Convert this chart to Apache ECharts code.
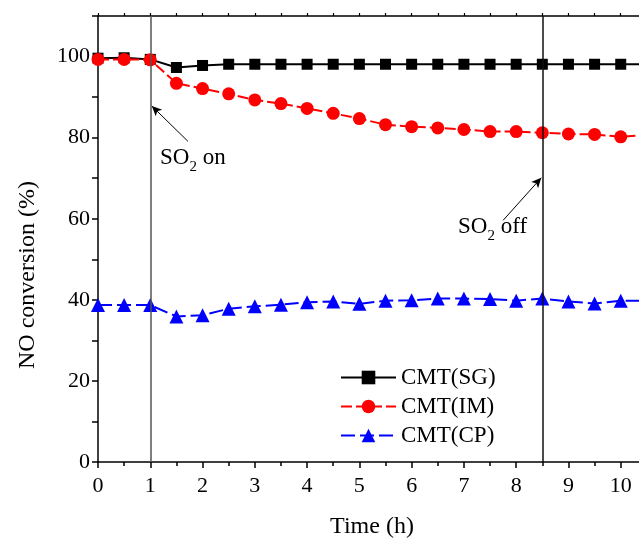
<!DOCTYPE html>
<html>
<head>
<meta charset="utf-8">
<script src="https://cdn.jsdelivr.net/npm/echarts@6/dist/echarts.min.js"></script>
<style>
  html, body { margin: 0; padding: 0; background: #fff; }
  #main { width: 639px; height: 541px; }
</style>
</head>
<body>
<div id="main"></div>
<script>
var font = "'Liberation Serif', 'Times New Roman', serif";

// time (h)
var times = [0, 0.5, 1, 1.5, 2, 2.5, 3, 3.5, 4, 4.5, 5, 5.5, 6, 6.5, 7, 7.5, 8, 8.5, 9, 9.5, 10, 10.5];
// NO conversion (%)
var sgValues = [99.6, 99.7, 99.3, 97.3, 97.8, 98.1, 98.1, 98.1, 98.1, 98.1, 98.1, 98.1, 98.1, 98.1, 98.1, 98.1, 98.1, 98.1, 98.1, 98.1, 98.1, 98.1];
var imValues = [99.3, 99.3, 99.2, 93.4, 92.1, 90.8, 89.3, 88.4, 87.2, 86.0, 84.7, 83.2, 82.7, 82.4, 82.0, 81.5, 81.5, 81.2, 80.9, 80.8, 80.2, 80.7];
var cpValues = [38.7, 38.7, 38.7, 35.9, 36.2, 37.8, 38.4, 38.8, 39.4, 39.6, 39.0, 39.8, 39.9, 40.3, 40.3, 40.2, 39.8, 40.3, 39.6, 39.1, 39.8, 39.8];
var seriesNames = ['CMT(SG)', 'CMT(IM)', 'CMT(CP)'];
// SO2 switched on / off
var switchTimes = [1, 8.5];

function pairs(vals) {
  return times.map(function (t, i) { return [t, vals[i]]; });
}

var dom = document.getElementById('main');
var myChart = echarts.init(dom, null, { renderer: 'canvas' });

var soRich = {
  n: { fontSize: 23, fontFamily: font, color: '#000', lineHeight: 26 },
  s: { fontSize: 15, fontFamily: font, color: '#000', lineHeight: 15, padding: [20, 0, 0, 0] }
};

var option = {
  animation: false,
  backgroundColor: '#fff',
  textStyle: { fontFamily: font },
  grid: { left: 98, top: 16, bottom: 79, right: -34, outerBoundsMode: 'none', containLabel: false },
  legend: {
    left: 335,
    top: 361,
    orient: 'vertical',
    itemWidth: 55,
    itemHeight: 17,
    itemGap: 6,
    textStyle: { fontSize: 23, fontFamily: font, color: '#000', lineHeight: 23 },
    data: seriesNames
  },
  xAxis: [
    {
      type: 'value', min: 0, max: 11, interval: 1,
      axisLine: { lineStyle: { color: '#000', width: 1.5 } },
      axisTick: { show: true, length: 6, lineStyle: { color: '#000', width: 1.5 } },
      minorTick: { show: true, splitNumber: 2, length: 4, lineStyle: { color: '#000', width: 1.5 } },
      axisLabel: { fontSize: 22, fontFamily: font, color: '#000', margin: 13 },
      splitLine: { show: false }
    },
    {
      type: 'value', position: 'top', min: 0, max: 11, interval: 1,
      axisLine: { lineStyle: { color: '#000', width: 1.5 } },
      axisTick: { show: true, length: 3, lineStyle: { color: '#000', width: 1.2 } },
      minorTick: { show: true, splitNumber: 2, length: 3, lineStyle: { color: '#000', width: 1.2 } },
      axisLabel: { show: false },
      splitLine: { show: false }
    }
  ],
  yAxis: {
    type: 'value', min: 0, max: 110, interval: 10,
    axisLine: { show: true, lineStyle: { color: '#000', width: 1.5 } },
    axisTick: { show: true, length: 6, lineStyle: { color: '#000', width: 1.5 } },
    axisLabel: {
      fontSize: 22, fontFamily: font, color: '#000', margin: 8,
      formatter: function (v) { return (v % 20 === 0 && v <= 100) ? String(v) : ''; }
    },
    splitLine: { show: false }
  },
  graphic: [
    {
      type: 'text', x: 28, y: 275, rotation: Math.PI / 2,
      style: { text: 'NO conversion (%)', fontSize: 24, fontFamily: font, fill: '#000', align: 'center', verticalAlign: 'middle' }
    },
    {
      type: 'text', x: 372, y: 527,
      style: { text: 'Time (h)', fontSize: 24, fontFamily: font, fill: '#000', align: 'center', verticalAlign: 'middle' }
    },
    {
      type: 'text', left: 160, top: 140,
      style: { text: '{n|SO}{s|2}{n| on}', rich: soRich }
    },
    {
      type: 'text', left: 458, top: 209,
      style: { text: '{n|SO}{s|2}{n| off}', rich: soRich }
    }
  ],
  series: [
    {
      name: seriesNames[0], type: 'line', data: pairs(sgValues),
      symbol: 'rect', symbolSize: 11,
      lineStyle: { color: '#000', width: 2 },
      itemStyle: { color: '#000' },
      markLine: {
        silent: true, symbol: ['none', 'none'],
        label: { show: false },
        data: [
          { xAxis: switchTimes[0], lineStyle: { color: '#555', width: 1.5, type: 'solid' } },
          { xAxis: switchTimes[1], lineStyle: { color: '#111', width: 1.5, type: 'solid' } }
        ]
      }
    },
    {
      name: seriesNames[1], type: 'line', data: pairs(imValues),
      symbol: 'circle', symbolSize: 13,
      lineStyle: { color: '#ff0000', width: 2, type: [11, 4] },
      itemStyle: { color: '#ff0000' },
      markLine: {
        silent: true, symbol: ['none', 'arrow'], symbolSize: [7, 10],
        label: { show: false },
        lineStyle: { color: '#000', width: 1, type: 'solid' },
        data: [
          [{ coord: [1.72, 79.1] }, { coord: [1.03, 87.8] }],
          [{ coord: [7.75, 59.6] }, { coord: [8.48, 70.1] }]
        ]
      }
    },
    {
      name: seriesNames[2], type: 'line', data: pairs(cpValues),
      symbol: 'triangle', symbolSize: 14,
      lineStyle: { color: '#0000ff', width: 2, type: [14, 5] },
      itemStyle: { color: '#0000ff' }
    }
  ]
};

myChart.setOption(option);
window.addEventListener('resize', myChart.resize);
</script>
</body>
</html>
